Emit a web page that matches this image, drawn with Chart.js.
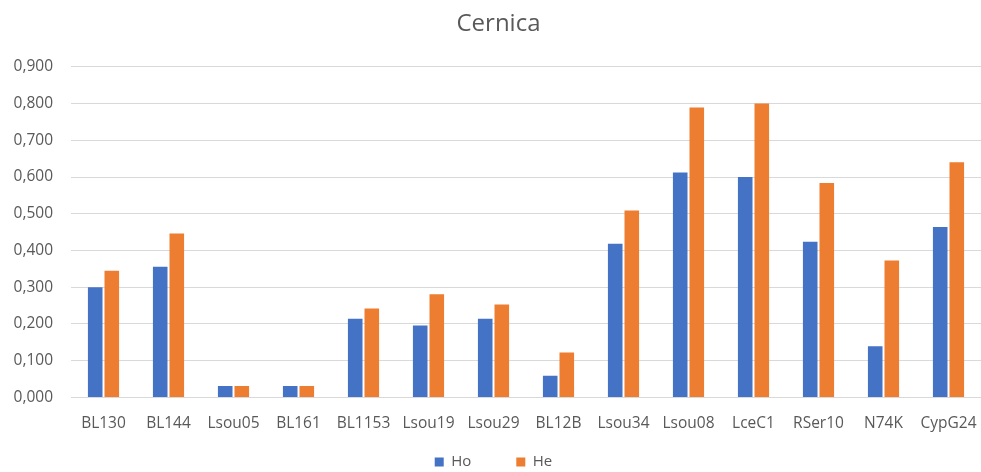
<!DOCTYPE html>
<html>
<head>
<meta charset="utf-8">
<script src="https://cdn.jsdelivr.net/npm/chart.js@4/dist/chart.umd.min.js"></script>
<style>
  html, body { margin: 0; padding: 0; background: #ffffff; }
  #wrap { width: 981px; height: 472px; position: relative; }
</style>
</head>
<body>
<div id="wrap"><canvas id="chart"></canvas></div>
<script>
// Loci and the observed / expected heterozygosity for the Cernica sample
const loci = ["BL130", "BL144", "Lsou05", "BL161", "BL1153", "Lsou19", "Lsou29", "BL12B", "Lsou34", "Lsou08", "LceC1", "RSer10", "N74K", "CypG24"];
const hoValues = [0.300, 0.356, 0.031, 0.031, 0.214, 0.196, 0.214, 0.059, 0.418, 0.612, 0.600, 0.424, 0.139, 0.464];
const heValues = [0.345, 0.446, 0.031, 0.031, 0.242, 0.281, 0.253, 0.122, 0.509, 0.789, 0.800, 0.584, 0.373, 0.640];
const yTicks = [0, 0.1, 0.2, 0.3, 0.4, 0.5, 0.6, 0.7, 0.8, 0.9];

const textColor = "#595959";
const gridColor = "#d9d9d9";
const fontFamily = "'Open Sans', 'Noto Sans', sans-serif";

// Wide gap between legend entries, but only a short strip reserved below the axis labels
const LEGEND_GAP = 45;
const LEGEND_HEIGHT = 23;
const TITLE_SHIFT = 8;
const LEGEND_SHIFT = 3;

// Draws a box with its horizontal extent nudged by dx and its top set by topFn
function nudgeDraw(box, dx, topFn) {
  const draw = box.draw.bind(box);
  box.draw = function () {
    const { left, right, top } = this;
    this.left = left + dx;
    this.right = right + dx;
    if (topFn) this.top = topFn(this);
    draw();
    this.left = left; this.right = right; this.top = top;
  };
}

const boxTweaks = {
  id: "boxTweaks",
  afterInit(chart) {
    const lg = chart.legend;
    if (lg) {
      const fit = lg.fit.bind(lg);
      lg.fit = function () { fit(); this.height = LEGEND_HEIGHT; };
      nudgeDraw(lg, LEGEND_SHIFT, (b) => b.bottom - LEGEND_GAP - 17.5);
    }
    if (chart.titleBlock) nudgeDraw(chart.titleBlock, TITLE_SHIFT, null);
  }
};

new Chart(document.getElementById("chart"), {
  type: "bar",
  data: {
    labels: loci,
    datasets: [
      { label: "Ho", data: hoValues, backgroundColor: "#4472C4", categoryPercentage: 0.51, barPercentage: 0.88 },
      { label: "He", data: heValues, backgroundColor: "#ED7D31", categoryPercentage: 0.51, barPercentage: 0.88 }
    ]
  },
  plugins: [boxTweaks],
  options: {
    responsive: true,
    maintainAspectRatio: false,
    animation: false,
    layout: { padding: { left: 0, right: 0, top: 10, bottom: 0 } },
    plugins: {
      title: {
        display: true,
        text: "Cernica",
        color: textColor,
        font: { family: fontFamily, size: 24, weight: "normal" },
        padding: { top: 0, bottom: 28 }
      },
      legend: {
        position: "bottom",
        labels: {
          color: textColor,
          font: { family: fontFamily, size: 15 },
          boxWidth: 9,
          boxHeight: 9,
          padding: LEGEND_GAP
        }
      },
      tooltip: { enabled: false }
    },
    scales: {
      x: {
        grid: { display: false, drawTicks: false },
        border: { display: true, color: gridColor, width: 1 },
        ticks: { color: textColor, font: { family: fontFamily, size: 15.5 }, padding: 16.5, maxRotation: 0, autoSkip: false },
        afterFit: (scale) => { scale.paddingLeft = 0; scale.paddingRight = 0; }
      },
      y: {
        min: 0,
        max: 0.9,
        afterBuildTicks: (axis) => { axis.ticks = yTicks.map(v => ({ value: v })); },
        afterFit: (scale) => { scale.width = 71; },
        grid: { color: gridColor, lineWidth: 1, drawTicks: false },
        border: { display: false },
        ticks: {
          color: textColor,
          font: { family: fontFamily, size: 15.5 },
          padding: 18,
          callback: (v) => Number(v).toFixed(3).replace(".", ",")
        }
      }
    }
  }
});
</script>
</body>
</html>
